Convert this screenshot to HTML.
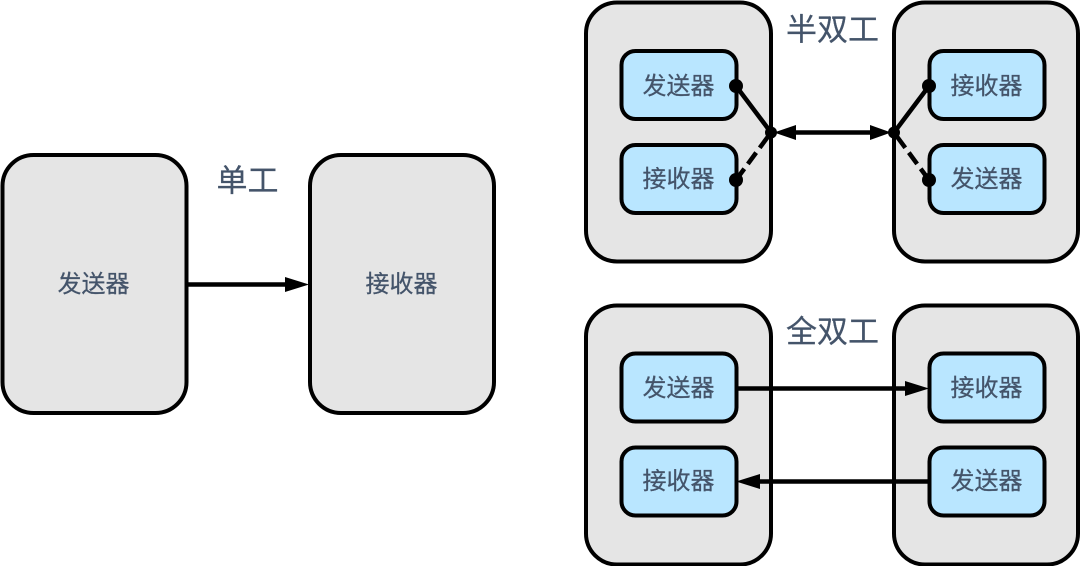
<!DOCTYPE html>
<html><head><meta charset="utf-8"><style>
html,body{margin:0;padding:0;background:#fff;width:1080px;height:566px;overflow:hidden}
svg{display:block}
text{font-family:"Liberation Sans","Noto Sans CJK SC",sans-serif;fill:#44546a;text-anchor:middle;dominant-baseline:central;font-weight:400;stroke:#44546a;stroke-width:.25}
.o{fill:#e5e5e5;stroke:#000;stroke-width:4}
.i{fill:#b9e6ff;stroke:#000;stroke-width:4}
.l{stroke:#000;stroke-width:4.500;fill:none}
.s{font-size:24px}.t{font-size:31px}
</style></head><body>
<svg width="1080" height="566" viewBox="0 0 1080 566" xmlns="http://www.w3.org/2000/svg">
<rect class="o" x="2.500" y="155" width="184" height="258" rx="31"/>
<rect class="o" x="310" y="155" width="184" height="258" rx="31"/>
<text class="s" x="93.500" y="284.500">发送器</text>
<text class="s" x="401.500" y="284.500">接收器</text>
<text class="t" x="247.500" y="181">单工</text>
<line class="l" x1="187" y1="284.500" x2="290" y2="284.500"/>
<polygon points="285,277 309,284.500 285,292"/>

<rect class="o" x="586" y="2.500" width="185" height="259" rx="31"/>
<rect class="o" x="894" y="2.500" width="184" height="259" rx="31"/>
<rect class="i" x="621.500" y="51" width="115" height="68" rx="14"/>
<rect class="i" x="621.500" y="145" width="115" height="68" rx="14"/>
<rect class="i" x="929.500" y="51" width="115" height="68" rx="14"/>
<rect class="i" x="929.500" y="145" width="115" height="68" rx="14"/>
<text class="s" x="678.500" y="86.500">发送器</text>
<text class="s" x="678.500" y="179.500">接收器</text>
<text class="s" x="986.500" y="86.500">接收器</text>
<text class="s" x="986.500" y="179.500">发送器</text>
<text class="t" x="832.500" y="30">半双工</text>
<line class="l" x1="736" y1="86" x2="771" y2="132.500"/>
<line class="l" x1="736" y1="180" x2="771" y2="132.500" stroke-dasharray="14 6"/>
<line class="l" x1="929" y1="86" x2="894" y2="132.500"/>
<line class="l" x1="929" y1="180" x2="894" y2="132.500" stroke-dasharray="14 6"/>
<line class="l" x1="785" y1="132.500" x2="880" y2="132.500"/>
<polygon points="774,132.500 796,125 796,140"/>
<polygon points="891,132.500 870,125 870,140"/>
<circle cx="736" cy="86" r="7"/><circle cx="736" cy="180" r="7"/>
<circle cx="929" cy="86" r="7"/><circle cx="929" cy="180" r="7"/>
<circle cx="771" cy="132.500" r="6"/><circle cx="894" cy="132.500" r="6"/>

<rect class="o" x="586" y="305.500" width="185" height="259" rx="31"/>
<rect class="o" x="894" y="305.500" width="184" height="259" rx="31"/>
<rect class="i" x="621.500" y="353.500" width="115" height="68" rx="14"/>
<rect class="i" x="621.500" y="447.500" width="115" height="68" rx="14"/>
<rect class="i" x="929.500" y="353.500" width="115" height="68" rx="14"/>
<rect class="i" x="929.500" y="447.500" width="115" height="68" rx="14"/>
<text class="s" x="678.500" y="388.500">发送器</text>
<text class="s" x="678.500" y="481.500">接收器</text>
<text class="s" x="986.500" y="388.500">接收器</text>
<text class="s" x="986.500" y="481.500">发送器</text>
<text class="t" x="832.500" y="332">全双工</text>
<line class="l" x1="737" y1="388.500" x2="912" y2="388.500"/>
<polygon points="905,381 929,388.500 905,396"/>
<line class="l" x1="928" y1="481.500" x2="755" y2="481.500"/>
<polygon points="760,474 736,481.500 760,489"/>
</svg>
</body></html>
